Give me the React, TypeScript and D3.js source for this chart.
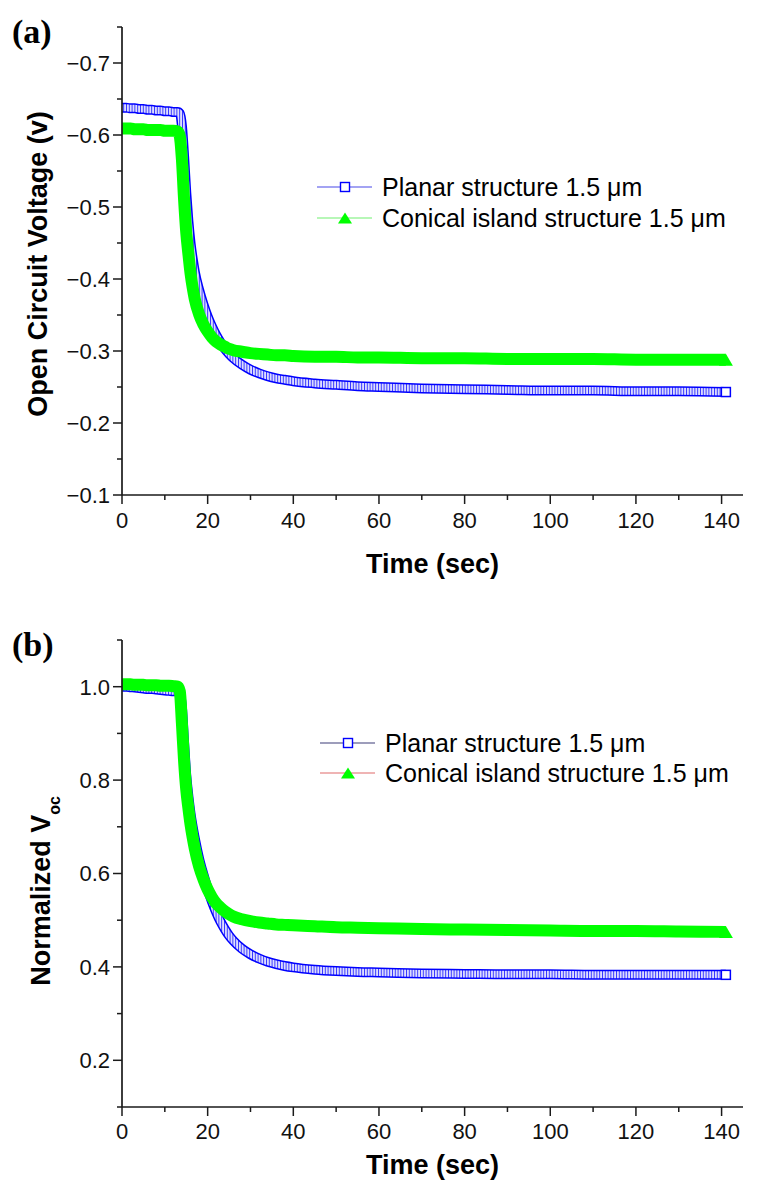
import React from 'react';
import * as d3 from 'd3';

// ---------- data ----------
const time = [0, 1, 2, 3, 4, 5, 6, 7, 8, 9, 10, 11, 12, 13, 13.5, 14, 14.5, 15, 15.5, 16, 16.5, 17, 18, 19, 20, 21, 22, 23, 24, 25, 26, 28, 30, 32, 34, 36, 38, 40, 45, 50, 55, 60, 70, 80, 90, 100, 110, 120, 130, 141];

const planarVoc = [-0.638, -0.638, -0.637, -0.637, -0.636, -0.636, -0.635, -0.635, -0.634, -0.634, -0.633, -0.633, -0.632, -0.632,
  -0.630, -0.612, -0.57, -0.52, -0.48, -0.45, -0.428, -0.41,
  -0.385, -0.365, -0.348, -0.334, -0.322, -0.312, -0.303, -0.296, -0.29,
  -0.281, -0.274, -0.269, -0.265, -0.262, -0.26, -0.258,
  -0.255, -0.253, -0.251, -0.25,
  -0.248, -0.247, -0.246, -0.245, -0.245, -0.244, -0.244, -0.243];

const conicalVoc = [-0.609, -0.609, -0.609, -0.608, -0.608, -0.608, -0.607, -0.607, -0.607, -0.607, -0.606, -0.606, -0.606, -0.605,
  -0.598, -0.565, -0.51, -0.465, -0.435, -0.408, -0.388, -0.372,
  -0.351, -0.337, -0.327, -0.319, -0.313, -0.309, -0.306, -0.303, -0.301,
  -0.299, -0.297, -0.296, -0.295, -0.294, -0.294, -0.293,
  -0.292, -0.292, -0.291, -0.291,
  -0.29, -0.29, -0.289, -0.289, -0.289, -0.288, -0.288, -0.288];

const planarNorm = [1.0, 1.0, 0.999, 0.998, 0.997, 0.996, 0.995, 0.995, 0.994, 0.993, 0.992, 0.991, 0.99, 0.99,
  0.985, 0.955, 0.88, 0.81, 0.765, 0.728, 0.70, 0.675,
  0.632, 0.598, 0.567, 0.54, 0.517, 0.497, 0.481, 0.467, 0.456,
  0.439, 0.427, 0.418, 0.411, 0.406, 0.402, 0.399,
  0.394, 0.391, 0.389, 0.388,
  0.386, 0.385, 0.384, 0.384, 0.383, 0.383, 0.383, 0.383];

const conicalNorm = [1.005, 1.005, 1.005, 1.004, 1.004, 1.004, 1.003, 1.003, 1.003, 1.002, 1.002, 1.002, 1.001, 1.0,
  0.99, 0.92, 0.84, 0.78, 0.74, 0.705, 0.677, 0.653,
  0.615, 0.588, 0.566, 0.549, 0.536, 0.527, 0.519, 0.513, 0.508,
  0.502, 0.498, 0.495, 0.493, 0.491, 0.49, 0.489,
  0.487, 0.485, 0.484, 0.483,
  0.481, 0.48, 0.479, 0.478, 0.477, 0.477, 0.476, 0.475];

const xTicks = [0, 20, 40, 60, 80, 100, 120, 140];
const xMinorTicks = [10, 30, 50, 70, 90, 110, 130];
const vocTicks = [-0.7, -0.6, -0.5, -0.4, -0.3, -0.2, -0.1];
const vocMinorTicks = [-0.75, -0.65, -0.55, -0.45, -0.35, -0.25, -0.15];
const normTicks = [0.2, 0.4, 0.6, 0.8, 1.0];
const normMinorTicks = [0.1, 0.3, 0.5, 0.7, 0.9, 1.1];
const seriesNames = ['Planar structure 1.5 \u03bcm', 'Conical island structure 1.5 \u03bcm'];

// ---------- layout / style ----------
const W = 757;
const H = 1189;
const SANS = "'Liberation Sans', Arial, Helvetica, sans-serif";
const SERIF = "'Liberation Serif', 'Times New Roman', serif";
const AXIS = '#1a1a1a';
const BLUE = '#0000ff';
const GREEN = '#00ff00';

const x = d3.scaleLinear().domain([0, 145]).range([122, 743]);

type PanelProps = {
  id: string;
  yScale: d3.ScaleLinear<number, number>;
  ticks: number[];
  minorTicks: number[];
  fmt: (v: number) => string;
  planar: number[];
  conical: number[];
  tickLabelY: number;
  titleY: number;
  legend: { x1: number; x2: number; mx: number; tx: number; y1: number; y2: number; c1: string; c2: string };
};

function Panel({ id, yScale, ticks, minorTicks, fmt, planar, conical, tickLabelY, titleY, legend }: PanelProps) {
  const [yBottom, yTop] = yScale.range();
  const line = d3
    .line<number>()
    .x((_, i) => x(time[i]))
    .y((d) => yScale(d))
    .curve(d3.curveMonotoneX);
  const last = time.length - 1;
  const lx = x(time[last]);
  const lyB = yScale(planar[last]);
  const lyG = yScale(conical[last]);
  const tri = (cx: number, cy: number, hw: number, h: number) =>
    `M${cx},${cy - h / 2}L${cx + hw},${cy + h / 2}L${cx - hw},${cy + h / 2}Z`;
  return (
    <g>
      <defs>
        <clipPath id={`clip-${id}`}>
          <rect x={x(0)} y={0} width={W - x(0)} height={yBottom} />
        </clipPath>
        <pattern id={`hatch-${id}`} patternUnits="userSpaceOnUse" width={2.8} height={40}>
          <rect width={2.8} height={40} fill="#dedeff" />
          <line x1={0.5} x2={0.5} y1={0} y2={40} stroke="#2020ff" strokeWidth={0.9} />
        </pattern>
      </defs>
      <g clipPath={`url(#clip-${id})`}>
        <path d={line(planar) || ''} fill="none" stroke={BLUE} strokeWidth={10} strokeLinejoin="round" />
        <path d={line(planar) || ''} fill="none" stroke={`url(#hatch-${id})`} strokeWidth={7} strokeLinejoin="round" />
        <rect x={lx - 4.5} y={lyB - 4.5} width={9} height={9} fill="#fff" stroke={BLUE} strokeWidth={1.5} />
        <path d={line(conical) || ''} fill="none" stroke={GREEN} strokeWidth={12} strokeLinejoin="round" />
        <path d={tri(lx, lyG, 7, 12)} fill={GREEN} />
      </g>
      {/* axes */}
      <line x1={x(0)} x2={x(0)} y1={yTop} y2={yBottom} stroke={AXIS} strokeWidth={1.7} />
      <line x1={x(0)} x2={x(145)} y1={yBottom} y2={yBottom} stroke={AXIS} strokeWidth={1.7} />
      {ticks.map((t) => (
        <g key={`yt${t}`}>
          <line x1={x(0) - 9} x2={x(0)} y1={yScale(t)} y2={yScale(t)} stroke={AXIS} strokeWidth={1.5} />
          <text x={x(0) - 12} y={yScale(t)} dy="0.36em" textAnchor="end" fontFamily={SANS} fontSize={22} fill="#111">
            {fmt(t)}
          </text>
        </g>
      ))}
      {minorTicks.map((t) => (
        <line key={`ym${t}`} x1={x(0) - 5} x2={x(0)} y1={yScale(t)} y2={yScale(t)} stroke={AXIS} strokeWidth={1.5} />
      ))}
      {xTicks.map((t) => (
        <g key={`xt${t}`}>
          <line x1={x(t)} x2={x(t)} y1={yBottom} y2={yBottom + 9} stroke={AXIS} strokeWidth={1.5} />
          <text x={x(t)} y={tickLabelY} textAnchor="middle" fontFamily={SANS} fontSize={22} fill="#111">
            {t}
          </text>
        </g>
      ))}
      {xMinorTicks.map((t) => (
        <line key={`xm${t}`} x1={x(t)} x2={x(t)} y1={yBottom} y2={yBottom + 5} stroke={AXIS} strokeWidth={1.5} />
      ))}
      <text x={(x(0) + x(145)) / 2} y={titleY} textAnchor="middle" fontFamily={SANS} fontWeight="bold" fontSize={27} fill="#000">
        Time (sec)
      </text>
      {/* legend */}
      <line x1={legend.x1} x2={legend.x2} y1={legend.y1} y2={legend.y1} stroke={legend.c1} strokeWidth={1.2} />
      <rect x={legend.mx - 4.5} y={legend.y1 - 4.5} width={9} height={9} fill="#fff" stroke={BLUE} strokeWidth={1.4} />
      <text x={legend.tx} y={legend.y1} dy="0.36em" fontFamily={SANS} fontSize={25} fill="#000">
        {seriesNames[0]}
      </text>
      <line x1={legend.x1} x2={legend.x2} y1={legend.y2} y2={legend.y2} stroke={legend.c2} strokeWidth={1.2} />
      <path d={tri(legend.mx, legend.y2, 7, 11)} fill={GREEN} />
      <text x={legend.tx} y={legend.y2} dy="0.36em" fontFamily={SANS} fontSize={25} fill="#000">
        {seriesNames[1]}
      </text>
    </g>
  );
}

export default function App() {
  const yA = d3.scaleLinear().domain([-0.1, -0.75]).range([495, 27]);
  const yB = d3.scaleLinear().domain([0.1, 1.1]).range([1107, 640]);
  const fmt = d3.format('.1f');
  return (
    <svg width={W} height={H} viewBox={`0 0 ${W} ${H}`} style={{ position: 'absolute', left: 0, top: 0, background: '#fff' }}>
      <rect width={W} height={H} fill="#fff" />
      <text x={12} y={43} fontFamily={SERIF} fontWeight="bold" fontSize={34} fill="#000">(a)</text>
      <text x={12} y={656} fontFamily={SERIF} fontWeight="bold" fontSize={34} fill="#000">(b)</text>
      <Panel
        id="a"
        yScale={yA}
        ticks={vocTicks}
        minorTicks={vocMinorTicks}
        fmt={fmt}
        planar={planarVoc}
        conical={conicalVoc}
        tickLabelY={528}
        titleY={573}
        legend={{ x1: 317, x2: 372, mx: 345, tx: 382, y1: 187, y2: 218, c1: '#4848e8', c2: '#70f070' }}
      />
      <Panel
        id="b"
        yScale={yB}
        ticks={normTicks}
        minorTicks={normMinorTicks}
        fmt={fmt}
        planar={planarNorm}
        conical={conicalNorm}
        tickLabelY={1139}
        titleY={1174}
        legend={{ x1: 320, x2: 375, mx: 348, tx: 385, y1: 743, y2: 773, c1: '#3c3c78', c2: '#e06a6a' }}
      />
      <text transform="translate(47,264) rotate(-90)" textAnchor="middle" fontFamily={SANS} fontWeight="bold" fontSize={27} fill="#000">
        Open Circuit Voltage (v)
      </text>
      <text transform="translate(50,891) rotate(-90)" textAnchor="middle" fontFamily={SANS} fontWeight="bold" fontSize={27} fill="#000">
        Normalized V
        <tspan fontSize={16} dy={10}>oc</tspan>
      </text>
    </svg>
  );
}
